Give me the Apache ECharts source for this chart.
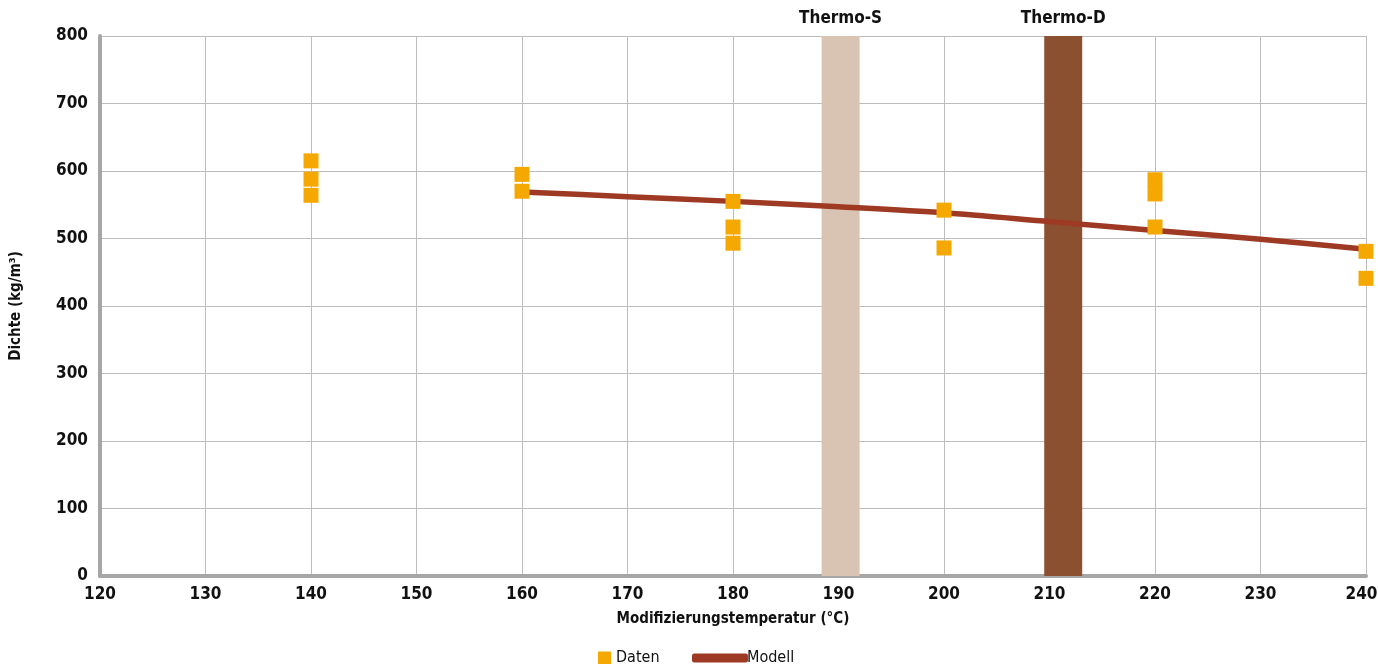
<!DOCTYPE html>
<html><head><meta charset="utf-8">
<script src="https://cdn.jsdelivr.net/npm/echarts@6/dist/echarts.min.js"></script>
<style>html,body{margin:0;padding:0;background:#fff}#c{width:1378px;height:664px}</style>
</head><body><div id="c"></div>
<script>
const FONT = "'DejaVu Sans Condensed','Liberation Sans Narrow',sans-serif";
const dataTemps = [140,140,140,160,160,180,180,180,200,200,220,220,220,240,240];
const dataDensity = [615,588,564,595,570,555,517,493,542,486,587,566,517,481,441];
const modelTemps = [160,170,180,190,200,210,220,230,240];
const modelDensity = [569,562,555,547,538,525,512,499,484];
const bandNames = ['Thermo-S','Thermo-D'];
const bandFrom = [188.4,209.5];
const bandTo = [192.0,213.1];
const bandColors = ['#D9C3B3','#8B5030'];
const xTicks = [120,130,140,150,160,170,180,190,200,210,220,230,240];

const chart = echarts.init(document.getElementById('c'));
chart.setOption({
  animation:false,
  textStyle:{fontFamily:FONT},
  grid:{left:100,right:12,top:36,bottom:88,containLabel:false,outerBoundsMode:'none'},
  legend:[
    {data:['Daten'],left:593,top:645,itemWidth:13,itemHeight:13,itemGap:8,
     textStyle:{fontFamily:FONT,fontSize:16,color:'#111'}},
    {data:['Modell'],left:687,top:645,itemWidth:56,itemHeight:9,icon:'roundRect',
     textStyle:{fontFamily:FONT,fontSize:16,color:'#111',padding:[0,0,0,-6]}}
  ],
  xAxis:{type:'value',min:120,max:240,interval:10,
    name:'Modifizierungstemperatur (°C)',nameLocation:'middle',nameGap:36,
    nameTextStyle:{fontFamily:FONT,fontWeight:'bold',fontSize:15,color:'#111'},
    axisLine:{show:true,lineStyle:{color:'#A6A6A6',width:4}},
    axisTick:{show:false},
    axisLabel:{fontFamily:FONT,fontWeight:'bold',fontSize:17,color:'#111',margin:10,
      formatter:v=>xTicks.includes(v)?(v===240?'{r|'+v+'}':String(v)):'',
      rich:{r:{fontFamily:FONT,fontWeight:'bold',fontSize:17,color:'#111',padding:[0,9,0,0]}}},
    splitLine:{show:true,lineStyle:{color:'#BDBDBD',width:1}}},
  yAxis:{type:'value',min:0,max:800,interval:100,
    name:'Dichte (kg/m³)',nameLocation:'middle',nameGap:76,
    nameTextStyle:{fontFamily:FONT,fontWeight:'bold',fontSize:15,color:'#111'},
    axisLine:{show:true,lineStyle:{color:'#A6A6A6',width:4}},
    axisTick:{show:false},
    axisLabel:{fontFamily:FONT,fontWeight:'bold',fontSize:17,color:'#111',margin:12},
    splitLine:{show:true,lineStyle:{color:'#BDBDBD',width:1}}},
  series:[
    {name:'Bands',type:'line',data:[],silent:true,
     markArea:{silent:true,
       data:bandNames.map((n,i)=>[
         {xAxis:bandFrom[i],yAxis:0,itemStyle:{color:bandColors[i],opacity:1},
          label:{show:true,position:'top',formatter:n,distance:9,
            fontFamily:FONT,fontWeight:'bold',fontSize:17,color:'#111'}},
         {xAxis:bandTo[i],yAxis:800}])}},
    {name:'Modell',type:'line',data:modelTemps.map((t,i)=>[t,modelDensity[i]]),
     smooth:0.3,symbol:'none',lineStyle:{color:'#9E3A24',width:5.5},
     itemStyle:{color:'#9E3A24'},z:3},
    {name:'Daten',type:'scatter',data:dataTemps.map((t,i)=>[t,dataDensity[i]]),
     symbol:'rect',symbolSize:15,itemStyle:{color:'#F5A800',opacity:1},z:4}
  ]
});
</script></body></html>
